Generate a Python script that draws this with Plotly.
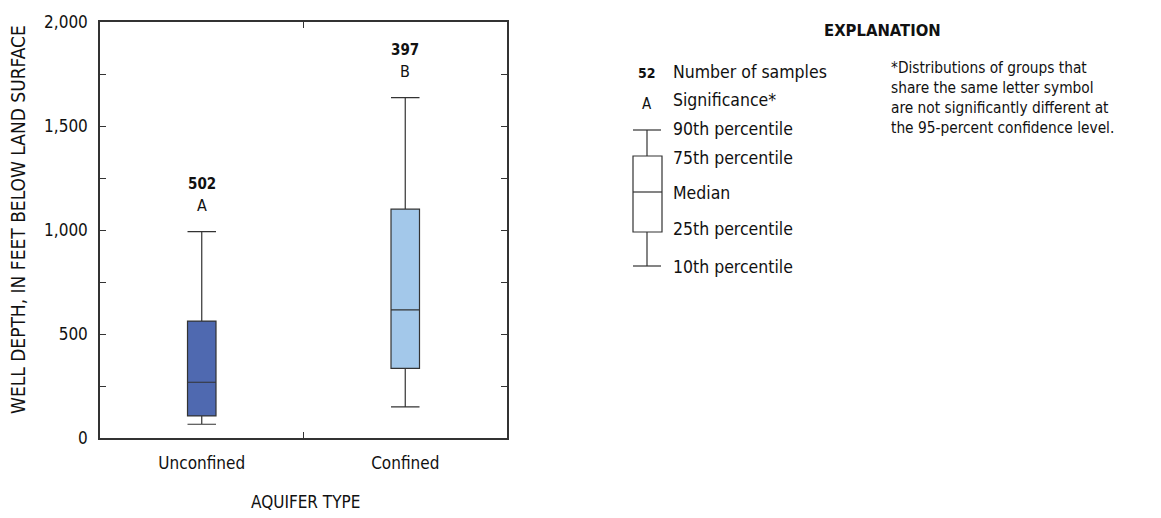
import plotly.graph_objects as go

categories = ["Unconfined", "Confined"]
p10 = [66, 150]
q1 = [106, 335]
median = [268, 616]
q3 = [562, 1100]
p90 = [992, 1636]
n_samples = ["502", "397"]
sig_letters = ["A", "B"]
box_colors = ["#4F69B0", "#A3C8EA"]
y_ticks = [0, 500, 1000, 1500, 2000]
y_ticktext = ["0", "500", "1,000", "1,500", "2,000"]

FONT = "DejaVu Sans Condensed, Liberation Sans Narrow, Arial Narrow, sans-serif"
OFF = 8  # page body margin
W, H = 1161 - OFF, 518 - OFF
L, R, T, B = 100, 507, 22, 438  # plot frame in page pixels

def px(x):
    return (x - L) / (R - L)

def py(y):
    return (B - y) / (B - T)

def note(x, y, text, size, xanchor="center", yanchor="middle", **kw):
    fig.add_annotation(xref="paper", yref="paper", x=px(x), y=py(y), text=text,
                       xanchor=xanchor, yanchor=yanchor, showarrow=False,
                       font=dict(size=size), **kw)

fig = go.Figure()
for i, cat in enumerate(categories):
    fig.add_trace(go.Box(
        x=[cat], q1=[q1[i]], median=[median[i]], q3=[q3[i]],
        lowerfence=[p10[i]], upperfence=[p90[i]],
        fillcolor=box_colors[i], line=dict(color="#333333", width=1.2),
        whiskerwidth=1, width=0.14, boxpoints=False, showlegend=False,
        hoverinfo="skip",
    ))
    fig.add_annotation(x=cat, y=p90[i], xref="x", yref="y", text="<b>%s</b>" % n_samples[i],
                       xanchor="center", yanchor="middle",
                       showarrow=False, yshift=48, font=dict(size=15, color="#111"))
    fig.add_annotation(x=cat, y=p90[i], xref="x", yref="y", text=sig_letters[i],
                       xanchor="center", yanchor="middle",
                       showarrow=False, yshift=26, font=dict(size=16, color="#111"))

fig.update_layout(
    width=W, height=H,
    margin=dict(l=L - OFF, r=W - (R - OFF), t=T - OFF, b=H - (B - OFF), autoexpand=False),
    plot_bgcolor="white", paper_bgcolor="white",
    font=dict(family=FONT, size=16, color="#111"),
    showlegend=False,
)
fig.update_xaxes(
    type="category", categoryorder="array", categoryarray=categories, automargin=False,
    range=[-0.5, 1.5], showline=True, linecolor="#333", linewidth=1.5, mirror="ticks",
    ticks="inside", tickson="boundaries", ticklen=6, tickcolor="#333",
    showgrid=False, tickfont=dict(size=17), ticklabelstandoff=9,
)
fig.update_yaxes(
    range=[0, 2000], tickvals=y_ticks, ticktext=y_ticktext, automargin=False,
    showline=True, linecolor="#333", linewidth=1.5, mirror="ticks",
    ticks="inside", ticklen=6, tickcolor="#333", showgrid=False, zeroline=False,
    tickfont=dict(size=17), ticklabelstandoff=7,
    minor=dict(ticks="inside", dtick=250, ticklen=6, tickcolor="#333", showgrid=False),
)

# axis titles
note(305, 502, "AQUIFER TYPE", 17)
note(18, 220, "WELL DEPTH, IN FEET BELOW LAND SURFACE", 19, textangle=-90, borderpad=0)

# explanation
note(882, 30, "<b>EXPLANATION</b>", 16.5)
note(647, 73, "<b>52</b>", 14)
note(647, 104, "A", 15)
labels = [("Number of samples", 72), ("Significance*", 100), ("90th percentile", 129),
          ("75th percentile", 158), ("Median", 193), ("25th percentile", 229), ("10th percentile", 267)]
for t, yy in labels:
    note(671, yy, t, 17.5, xanchor="left")

ln = dict(color="#333", width=1.2)
def seg(x0, y0, x1, y1, kind="line"):
    fig.add_shape(type=kind, xref="paper", yref="paper", x0=px(x0), x1=px(x1),
                  y0=py(y0), y1=py(y1), line=ln)
seg(633, 130, 661, 130)
seg(647, 130, 647, 156)
seg(633, 156, 662, 232, kind="rect")
seg(633, 192, 662, 192)
seg(647, 232, 647, 266)
seg(633, 266, 661, 266)

note(889, 57, "*Distributions of groups that<br>share the same letter symbol<br>are not significantly different at<br>the 95-percent confidence level.",
     15.3, xanchor="left", yanchor="top", align="left")

fig.write_html("out.html")
